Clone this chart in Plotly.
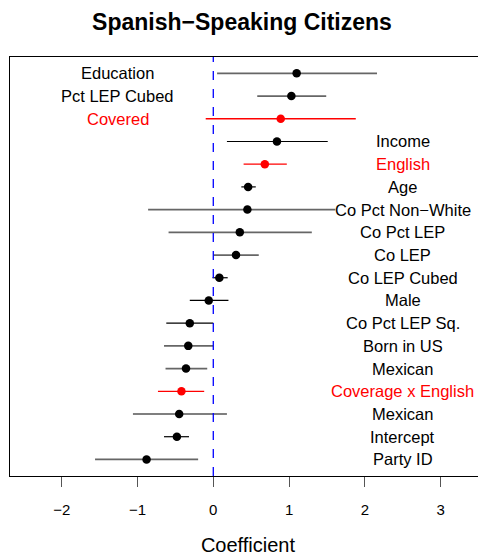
import plotly.graph_objects as go

labels = ["Education", "Pct LEP Cubed", "Covered", "Income", "English", "Age",
          "Co Pct Non\u2212White", "Co Pct LEP", "Co LEP", "Co LEP Cubed", "Male",
          "Co Pct LEP Sq.", "Born in US", "Mexican", "Coverage x English",
          "Mexican", "Intercept", "Party ID"]
coef = [1.10, 1.03, 0.89, 0.84, 0.68, 0.46, 0.45, 0.35, 0.30, 0.08, -0.06,
        -0.31, -0.33, -0.36, -0.42, -0.45, -0.48, -0.88]
lower = [0.05, 0.58, -0.10, 0.18, 0.40, 0.37, -0.86, -0.59, 0.00, -0.01, -0.31,
         -0.62, -0.65, -0.63, -0.73, -1.06, -0.65, -1.56]
upper = [2.16, 1.49, 1.88, 1.51, 0.97, 0.56, 1.61, 1.30, 0.60, 0.19, 0.20,
         0.00, 0.00, -0.08, -0.12, 0.18, -0.32, -0.20]
highlight = [False, False, True, False, True, False, False, False, False, False,
             False, False, False, False, True, False, False, False]
gray_line = [True, True, False, False, False, False, True, True, True, False,
             False, False, True, True, False, False, False, True]
label_side = ["left", "left", "left"] + ["right"] * 15
tick_vals = [-2, -1, 0, 1, 2, 3]
tick_text = ["\u22122", "\u22121", "0", "1", "2", "3"]

n = len(labels)
ypos = [n - i for i in range(n)]

fig = go.Figure()
for i in range(n):
    if highlight[i]:
        col, w = "#ff0000", 1.3
    elif gray_line[i]:
        col, w = "#666666", 1.8
    else:
        col, w = "#000000", 1.2
    fig.add_trace(go.Scatter(x=[lower[i], upper[i]], y=[ypos[i], ypos[i]],
                             mode="lines", line=dict(color=col, width=w),
                             showlegend=False, hoverinfo="skip"))

fig.add_trace(go.Scatter(
    x=coef, y=ypos, mode="markers",
    marker=dict(size=8.5, color=["#ff0000" if h else "#000000" for h in highlight],
                line=dict(width=0)),
    showlegend=False))

for i in range(n):
    fig.add_annotation(x=-1.26 if label_side[i] == "left" else 2.50, y=ypos[i],
                       text=labels[i], showarrow=False, xanchor="center",
                       yanchor="middle",
                       font=dict(size=16.5, color="#ff0000" if highlight[i] else "#000000",
                                 family="Liberation Sans, Arial, sans-serif"))

fig.add_shape(type="line", x0=0, x1=0, y0=0, y1=1, xref="x", yref="paper",
              line=dict(color="#0000ff", width=1.3, dash="dash"))

fig.update_layout(
    width=478, height=551,
    margin=dict(l=2, r=0, t=49, b=83),
    paper_bgcolor="white", plot_bgcolor="white",
    font=dict(family="Liberation Sans, Arial, sans-serif", color="#000000"),
    title=dict(text="<b>Spanish\u2212Speaking Citizens</b>", x=0.4895, xanchor="center",
               y=0.9755, yanchor="middle", font=dict(size=23)),
    xaxis=dict(range=[-2.682, 3.598], tickvals=tick_vals, ticktext=tick_text,
               showgrid=False, zeroline=False, showline=True, linecolor="#000000",
               linewidth=1.2, mirror=True, ticks="outside", ticklen=10,
               tickcolor="#555555", tickwidth=1.2, tickfont=dict(size=15),
               ticklabelstandoff=10,
               title=dict(text="Coefficient", font=dict(size=20), standoff=20)),
    yaxis=dict(range=[0.27, 18.72], showticklabels=False, showgrid=False,
               zeroline=False, showline=True, linecolor="#000000", linewidth=1.2,
               ticks=""),
)

fig.write_html("out.html")
